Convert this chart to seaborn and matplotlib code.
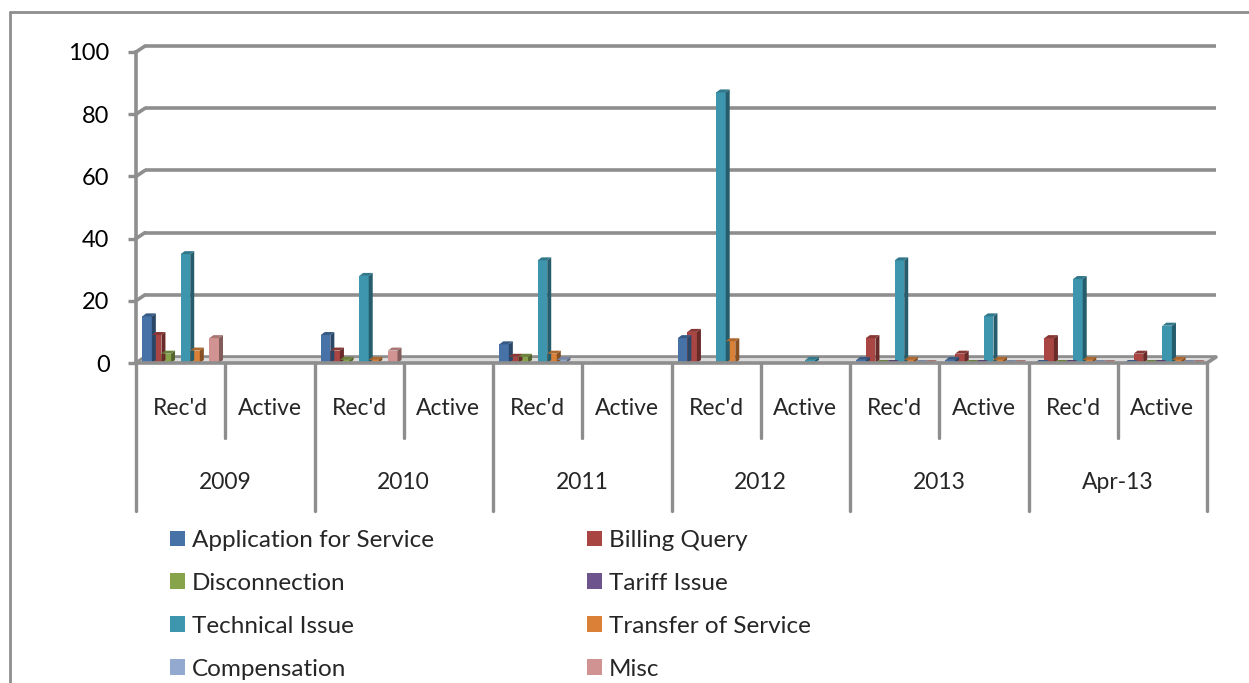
import numpy as np
import pandas as pd
import matplotlib
matplotlib.use("Agg")
import matplotlib.pyplot as plt
from matplotlib.patches import Polygon, Patch
from matplotlib import colors as mcolors
import seaborn as sns

# data (None = blank cell, no bar)
slots = ["2009 Rec'd", "2009 Active", "2010 Rec'd", "2010 Active",
         "2011 Rec'd", "2011 Active", "2012 Rec'd", "2012 Active",
         "2013 Rec'd", "2013 Active", "Apr-13 Rec'd", "Apr-13 Active"]
sub_labels = ["Rec'd", "Active"] * 6
years = ["2009", "2010", "2011", "2012", "2013", "Apr-13"]

categories = ["Application for Service", "Billing Query", "Disconnection",
              "Tariff Issue", "Technical Issue", "Transfer of Service",
              "Compensation", "Misc"]

app_service = [15, None, 9, None, 6, None, 8, None, 1, 1, 0, 0]
billing = [9, None, 4, None, 2, None, 10, None, 8, 3, 8, 3]
disconnection = [3, None, 1, None, 2, None, None, None, 0, 0, 0, 0]
tariff = [None, None, None, None, None, None, None, None, 0, 0, 0, 0]
technical = [35, None, 28, None, 33, None, 87, 1, 33, 15, 27, 12]
transfer = [4, None, 1, None, 3, None, 7, None, 1, 1, 1, 1]
compensation = [None, None, None, None, 1, None, None, None, 0, 0, 0, 0]
misc = [8, None, 4, None, None, None, None, None, 0, 0, 0, 0]

colors = ["#4672A8", "#A94643", "#87A44A", "#6E548D",
          "#3D96AE", "#DA8137", "#93A9CF", "#D19392"]

series = [app_service, billing, disconnection, tariff,
          technical, transfer, compensation, misc]
rows = []
for cat, vals in zip(categories, series):
    for s, v in zip(slots, vals):
        if v is not None:
            rows.append({"slot": s, "category": cat, "value": v})
df = pd.DataFrame(rows)

sns.set_theme(style="white")
plt.rcParams["font.family"] = ["Lato", "DejaVu Sans"]

W, H = 1249, 683
fig = plt.figure(figsize=(W / 100, H / 100), dpi=100)
ax_l, ax_r, ax_b, ax_t = 136, 1207, 363, 52
ax = fig.add_axes([ax_l / W, 1 - ax_b / H, (ax_r - ax_l) / W, (ax_b - ax_t) / H])

sns.barplot(data=df, x="slot", y="value", hue="category", order=slots,
            hue_order=categories, palette=colors, width=0.86, gap=0,
            saturation=1, legend=False, ax=ax, zorder=3, linewidth=0)

ax.set_xlim(-0.5, len(slots) - 0.5)
ax.set_ylim(0, 100)

# pixel -> data conversion for the fake 3-D depth
px_x = (len(slots)) / (ax_r - ax_l)
px_y = 100 / (ax_b - ax_t)
grid_dx, grid_dy = 9 * px_x, 6 * px_y
bar_dx, bar_dy = 4 * px_x, 3 * px_y
gcol = "#8e8e8e"

# back-wall gridlines and the floor
yticks = [0, 20, 40, 60, 80, 100]
x0, x1 = -0.5, len(slots) - 0.5
for v in yticks:
    ax.plot([x0 + grid_dx, x1 + grid_dx], [v + grid_dy, v + grid_dy],
            color=gcol, lw=2.6, zorder=1, clip_on=False, solid_capstyle="butt")
    ax.plot([x0, x0 + grid_dx], [v, v + grid_dy], color=gcol, lw=2.6,
            zorder=1, clip_on=False)
floor = Polygon([[x0, 0], [x1, 0], [x1 + grid_dx, grid_dy], [x0 + grid_dx, grid_dy]],
                closed=True, facecolor="#dcdcdc", edgecolor=gcol, lw=1.5,
                zorder=1.5, clip_on=False)
ax.add_patch(floor)
ax.plot([x1, x1 + grid_dx], [0, grid_dy], color=gcol, lw=2.6, zorder=1.6, clip_on=False)

# side and top faces of every bar
for p in list(ax.patches):
    if p is floor:
        continue
    h = p.get_height()
    if not np.isfinite(h):
        continue
    x = p.get_x()
    w = p.get_width()
    base = np.array(mcolors.to_rgb(p.get_facecolor()))
    side = Polygon([[x + w, 0], [x + w + bar_dx, bar_dy], [x + w + bar_dx, h + bar_dy], [x + w, h]],
                   closed=True, facecolor=base * 0.62, edgecolor="none", zorder=3)
    top = Polygon([[x, h], [x + w, h], [x + w + bar_dx, h + bar_dy], [x + bar_dx, h + bar_dy]],
                  closed=True, facecolor=base * 0.8, edgecolor="none", zorder=3)
    ax.add_patch(side)
    ax.add_patch(top)

for name in ["top", "right"]:
    ax.spines[name].set_visible(False)
ax.spines["left"].set_color(gcol)
ax.spines["left"].set_linewidth(2.6)
ax.spines["bottom"].set_color(gcol)
ax.spines["bottom"].set_linewidth(2.6)
ax.spines["bottom"].set_zorder(5)

ax.set_yticks(yticks)
ax.set_yticklabels([str(v) for v in yticks])
ax.tick_params(axis="y", length=6, width=2.4, color=gcol, pad=13,
               labelsize=17, labelcolor="black", left=True)
ax.set_xticks([])
ax.set_xlabel("")
ax.set_ylabel("")

# two-level category table below the axis
tr = ax.get_xaxis_transform()
for i in range(len(slots) + 1):
    xb = i - 0.5
    bottom = -0.476 if i % 2 == 0 else -0.241
    ax.plot([xb, xb], [0, bottom], transform=tr, color=gcol, lw=2.4, clip_on=False)
for i, lab in enumerate(sub_labels):
    ax.text(i, -0.146, lab, transform=tr, ha="center", va="center", fontsize=16.5)
for j, yr in enumerate(years):
    ax.text(2 * j + 0.5, -0.384, yr, transform=tr, ha="center", va="center", fontsize=16.5)

# legend, two columns filled row by row
order = [0, 2, 4, 6, 1, 3, 5, 7]
handles = [Patch(facecolor=colors[k], edgecolor="none") for k in order]
labels = [categories[k] for k in order]
fig.legend(handles, labels, ncol=2, loc="upper left",
           bbox_to_anchor=(170 / W, 1 - 530 / H), frameon=False, fontsize=17.5,
           handlelength=0.62, handleheight=0.62, handletextpad=0.28,
           labelspacing=0.9, columnspacing=6.3, borderpad=0, borderaxespad=0)

# chart border
fig.add_artist(plt.Line2D([10 / W, 1], [1 - 12 / H, 1 - 12 / H], color=gcol, lw=2))
fig.add_artist(plt.Line2D([10 / W, 10 / W], [0, 1 - 12 / H], color=gcol, lw=2))

fig.savefig("out.png", dpi=100)
